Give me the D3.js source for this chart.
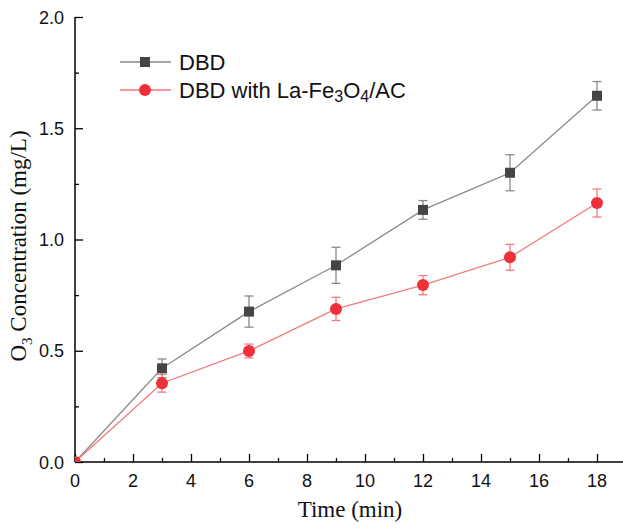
<!DOCTYPE html>
<html>
<head>
<meta charset="utf-8">
<script src="https://cdn.jsdelivr.net/npm/d3@7"></script>
<style>
  body { margin: 0; background: #fff; }
  svg { display: block; }
</style>
</head>
<body>
<div id="chart"></div>
<script>
// data
const times = [0, 3, 6, 9, 12, 15, 18];
const dbd = [0, 0.421, 0.676, 0.884, 1.133, 1.300, 1.646];
const dbdErr = [0, 0.042, 0.07, 0.081, 0.042, 0.081, 0.064];
const dbdLa = [0, 0.354, 0.499, 0.688, 0.795, 0.920, 1.164];
const dbdLaErr = [0, 0.04, 0.031, 0.052, 0.043, 0.058, 0.063];
const xTicks = [0, 2, 4, 6, 8, 10, 12, 14, 16, 18];
const yTicks = [0, 0.5, 1.0, 1.5, 2.0];

const width = 623;
const height = 528;
const margin = { top: 17, left: 75, bottom: 66, right: 0 };

const svg = d3.select("#chart").append("svg")
  .attr("width", width)
  .attr("height", height);

const x = d3.scaleLinear().domain([0, 19]).range([margin.left, margin.left + 29 * 19]);
const y = d3.scaleLinear().domain([0, 2]).range([height - margin.bottom, margin.top]);

svg.append("clipPath").attr("id", "plot")
  .append("rect")
  .attr("x", x(0)).attr("y", y(2) - 10)
  .attr("width", width - x(0)).attr("height", y(0) - y(2) + 10);

// axes (ticks pointing inside)
const xAxis = svg.append("g").attr("transform", `translate(0,${y(0)})`);
xAxis.call(d3.axisTop(x).tickValues(d3.range(1, 19, 2)).tickSize(4).tickFormat(""));
xAxis.append("g").call(d3.axisTop(x).tickValues(xTicks).tickSize(8).tickFormat(""));
xAxis.selectAll(".domain").remove();
xAxis.append("line").attr("x1", x(0)).attr("x2", width).attr("stroke", "#000").attr("stroke-width", 1.5);
xAxis.selectAll(".tick line").attr("stroke", "#000").attr("stroke-width", 1.3);
xAxis.selectAll(".lbl").data(xTicks).join("text")
  .attr("x", d => x(d)).attr("y", 25)
  .attr("text-anchor", "middle")
  .attr("font-family", "Liberation Sans, Arial, sans-serif")
  .attr("font-size", 18).attr("fill", "#111")
  .text(d => d);

const yAxis = svg.append("g").attr("transform", `translate(${x(0)},0)`);
yAxis.call(d3.axisRight(y).tickValues([0.25, 0.75, 1.25, 1.75]).tickSize(4).tickFormat(""));
yAxis.append("g").call(d3.axisRight(y).tickValues(yTicks).tickSize(8).tickFormat(""));
yAxis.selectAll(".domain").remove();
yAxis.append("line").attr("y1", y(0)).attr("y2", y(2)).attr("stroke", "#000").attr("stroke-width", 1.5);
yAxis.selectAll(".tick line").attr("stroke", "#000").attr("stroke-width", 1.3);
yAxis.selectAll(".lbl").data(yTicks).join("text")
  .attr("x", -11).attr("y", d => y(d) + 6.5)
  .attr("text-anchor", "end")
  .attr("font-family", "Liberation Sans, Arial, sans-serif")
  .attr("font-size", 18).attr("fill", "#111")
  .text(d => d.toFixed(1));

// axis titles
svg.append("text")
  .attr("x", 350).attr("y", 517)
  .attr("text-anchor", "middle")
  .attr("font-family", "Liberation Serif, Times New Roman, serif")
  .attr("font-size", 23).attr("fill", "#111")
  .text("Time (min)");

const yt = svg.append("text")
  .attr("transform", "translate(26,246) rotate(-90)")
  .attr("text-anchor", "middle")
  .attr("font-family", "Liberation Serif, Times New Roman, serif")
  .attr("font-size", 23).attr("fill", "#111");
yt.append("tspan").text("O");
yt.append("tspan").attr("font-size", 15).attr("dy", 6).text("3");
yt.append("tspan").attr("dy", -6).text(" Concentration (mg/L)");

// series
const series = [
  { name: "DBD", vals: dbd, err: dbdErr, line: "#8a8a8a", fill: "#454545", bar: "#8a8a8a", shape: "square" },
  { name: "La", vals: dbdLa, err: dbdLaErr, line: "#f47a7e", fill: "#ef3038", bar: "#f47a7e", shape: "circle" }
];

const plot = svg.append("g").attr("clip-path", "url(#plot)");
const line = d3.line().x(d => x(d[0])).y(d => y(d[1]));

series.forEach(s => {
  const pts = times.map((t, i) => [t, s.vals[i], s.err[i]]);
  const g = plot.append("g");
  g.append("path").datum(pts)
    .attr("d", line).attr("fill", "none")
    .attr("stroke", s.line).attr("stroke-width", 1.3);
  const eb = g.selectAll(".eb").data(pts.filter(d => d[2] > 0)).join("g");
  eb.append("line")
    .attr("x1", d => x(d[0])).attr("x2", d => x(d[0]))
    .attr("y1", d => y(d[1] - d[2])).attr("y2", d => y(d[1] + d[2]))
    .attr("stroke", s.bar).attr("stroke-width", 1.3);
  [-1, 1].forEach(k => {
    eb.append("line")
      .attr("x1", d => x(d[0]) - 4.5).attr("x2", d => x(d[0]) + 4.5)
      .attr("y1", d => y(d[1] + k * d[2])).attr("y2", d => y(d[1] + k * d[2]))
      .attr("stroke", s.bar).attr("stroke-width", 1.3);
  });
  if (s.shape === "square") {
    g.selectAll(".m").data(pts).join("rect")
      .attr("x", d => x(d[0]) - 5).attr("y", d => y(d[1]) - 5)
      .attr("width", 10).attr("height", 10)
      .attr("fill", s.fill);
  } else {
    g.selectAll(".m").data(pts).join("circle")
      .attr("cx", d => x(d[0])).attr("cy", d => y(d[1]))
      .attr("r", 6).attr("fill", s.fill);
  }
});

// legend
const legend = svg.append("g").attr("font-family", "Liberation Sans, Arial, sans-serif").attr("font-size", 22).attr("fill", "#111");
const l1 = legend.append("g").attr("transform", "translate(0,62)");
l1.append("line").attr("x1", 120).attr("x2", 171).attr("stroke", "#8a8a8a").attr("stroke-width", 1.3);
l1.append("rect").attr("x", 140).attr("y", -5).attr("width", 10).attr("height", 10).attr("fill", "#454545");
l1.append("text").attr("x", 179).attr("y", 8).text("DBD");

const l2 = legend.append("g").attr("transform", "translate(0,90)");
l2.append("line").attr("x1", 120).attr("x2", 171).attr("stroke", "#f47a7e").attr("stroke-width", 1.3);
l2.append("circle").attr("cx", 145).attr("r", 6).attr("fill", "#ef3038");
const t2 = l2.append("text").attr("x", 179).attr("y", 8);
t2.append("tspan").text("DBD with La-Fe");
t2.append("tspan").attr("font-size", 16).attr("dy", 4).text("3");
t2.append("tspan").attr("dy", -4).text("O");
t2.append("tspan").attr("font-size", 16).attr("dy", 4).text("4");
t2.append("tspan").attr("dy", -4).text("/AC");
</script>
</body>
</html>
